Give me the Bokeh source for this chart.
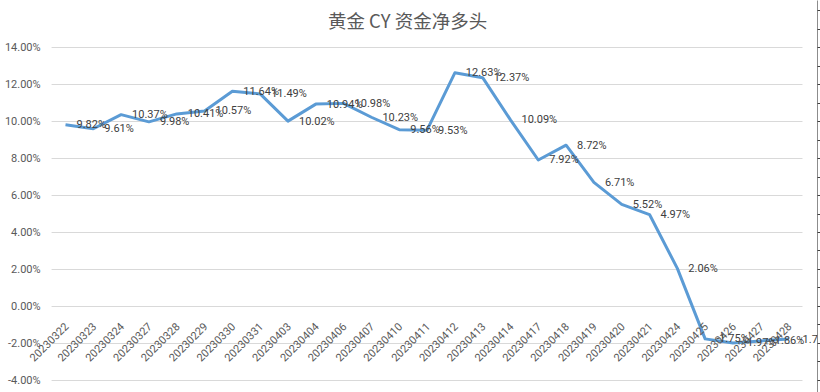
import math
from bokeh.plotting import figure
from bokeh.models import (FixedTicker, CustomJSTickFormatter, LinearAxis, Range1d,
                          ColumnDataSource, LabelSet)
from bokeh.core.properties import value
from bokeh.embed import file_html
from bokeh.resources import INLINE

dates = ["20230322", "20230323", "20230324", "20230327", "20230328", "20230229",
         "20230330", "20230331", "20230403", "20230404", "20230406", "20230407",
         "20230410", "20230411", "20230412", "20230413", "20230414", "20230417",
         "20230418", "20230419", "20230420", "20230421", "20230424", "20230425",
         "20230426", "20230427", "20230428"]
net_long_pct = [9.82, 9.61, 10.37, 9.98, 10.41, 10.57, 11.64, 11.49, 10.02, 10.94,
                10.98, 10.23, 9.56, 9.53, 12.63, 12.37, 10.09, 7.92, 8.72, 6.71,
                5.52, 4.97, 2.06, -1.75, -1.97, -1.86, -1.76]
y_ticks = [-4, -2, 0, 2, 4, 6, 8, 10, 12, 14]
y_tick_labels = [f"{t:.2f}%" for t in y_ticks]
right_ticks = list(range(-5, 18))
point_labels = [f"{v:.2f}%" for v in net_long_pct]
title_text = "黄金 CY 资金净多头"

n = len(dates)
idx = list(range(n))
src = ColumnDataSource(dict(i=idx, date=dates, zero=[0] * n, val=net_long_pct,
                            lab=point_labels))
ysrc = ColumnDataSource(dict(y=y_ticks, lab=y_tick_labels,
                             x0=[-0.5] * len(y_ticks), x1=[n - 0.5] * len(y_ticks)))

p = figure(x_range=Range1d(-2.337, 27.04), y_range=Range1d(-4.649, 16.541),
           width=820, height=392, output_backend="svg", toolbar_location=None,
           min_border_left=0, min_border_right=3, min_border_top=0,
           min_border_bottom=0)
p.outline_line_color = None
p.background_fill_color = "white"
p.border_fill_color = "white"
p.xgrid.visible = False
p.ygrid.visible = False
p.xaxis.visible = False
p.yaxis.visible = False

# horizontal gridlines spanning the category area only
p.segment(x0="x0", x1="x1", y0="y", y1="y", source=ysrc,
          line_color="#d9d9d9", line_width=1)

# value-axis labels
y_labels = LabelSet(x="x0", y="y", text="lab", source=ysrc, x_offset=-11,
                    text_align="right", text_baseline="middle",
                    text_font=value("Roboto"), text_font_size="11px",
                    text_color="#595959")
p.add_layout(y_labels)

# category labels hang below the 0% line
cat_labels = LabelSet(x="i", y="zero", text="date", source=src,
                      angle=math.pi / 4, text_align="right", text_baseline="middle",
                      x_offset=1, y_offset=-18, text_font=value("Roboto"),
                      text_font_size="11px", text_color="#595959")
p.add_layout(cat_labels)

# secondary axis at the right edge (ticks only)
right_axis = LinearAxis(ticker=FixedTicker(ticks=right_ticks),
                        formatter=CustomJSTickFormatter(code="return '';"),
                        axis_line_color="#8c8c8c", major_tick_line_color="#404040",
                        major_tick_in=0, major_tick_out=3,
                        minor_tick_line_color=None, major_label_standoff=0)
p.add_layout(right_axis, "right")

p.line("i", "val", source=src, line_color="#5B9BD5", line_width=3,
       line_join="round")
val_labels = LabelSet(x="i", y="val", text="lab", source=src, x_offset=11,
                      text_baseline="middle", text_align="left",
                      text_font=value("Roboto"), text_font_size="11px",
                      text_color="#404040")
p.add_layout(val_labels)

p.text(x=[12.3], y=[15.46], text=[title_text], text_align="center",
       text_baseline="middle", text_font=value("Noto Sans CJK SC"),
       text_font_size="18.5px", text_color="#595959")

open("out.html", "w").write(file_html(p, INLINE))
